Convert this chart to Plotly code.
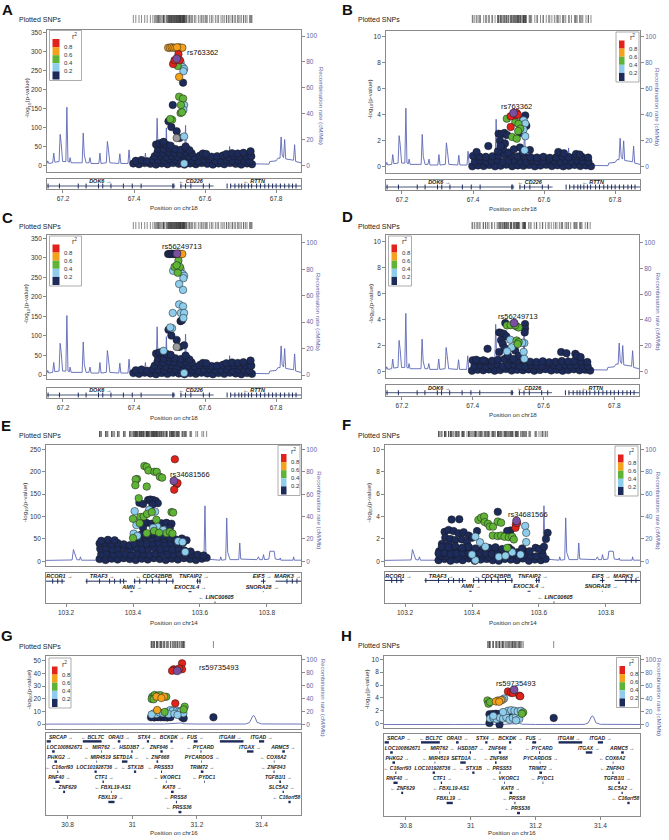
import plotly.graph_objects as go

W, H = 669, 840
FONT = "Liberation Sans, Arial, sans-serif"
GENE_FONT = "Liberation Sans, DejaVu Sans, sans-serif"

C_RED = "#e2231b"
C_ORANGE = "#f4a21c"
C_GREEN = "#5fb337"
C_LBLUE = "#8ecdec"
C_NAVY = "#1d2b5b"
C_PURPLE = "#7b4f9f"
C_GREY = "#9b9b9b"
REC_LINE = "#5c68b6"
REC_TXT = "#5d66a8"
BOX = "#8a8a8a"

# ---------------- chr18 region (panels A-D) ----------------
chr18_rec_x = [67.155, 67.157, 67.160, 67.171, 67.174, 67.177, 67.189, 67.192, 67.195, 67.199,
               67.208, 67.211, 67.214, 67.218, 67.220, 67.223, 67.254, 67.257, 67.260, 67.265,
               67.273, 67.276, 67.279, 67.301, 67.304, 67.307, 67.322, 67.325, 67.328, 67.332,
               67.357, 67.360, 67.363, 67.383, 67.386, 67.389, 67.429, 67.432, 67.435, 67.462,
               67.465, 67.468, 67.472, 67.488, 67.491, 67.494, 67.542, 67.545, 67.548, 67.600,
               67.666, 67.669, 67.672, 67.780, 67.782, 67.800, 67.805, 67.811, 67.814, 67.817,
               67.821, 67.824, 67.827, 67.849, 67.852, 67.855, 67.870]
chr18_rec_y = [1.5, 3.5, 1.5, 2.0, 9.5, 2.5, 3.0, 24.0, 17.0, 3.0,
               3.0, 45.0, 3.0, 2.5, 6.0, 2.0, 2.0, 25.0, 8.0, 2.0,
               2.0, 6.0, 1.5, 1.5, 9.5, 1.5, 2.0, 18.5, 12.0, 2.0,
               1.5, 9.0, 1.5, 1.5, 12.0, 1.5, 1.5, 9.5, 1.5, 2.0,
               36.5, 8.0, 3.0, 3.0, 29.0, 3.0, 3.0, 31.0, 3.0, 2.0,
               1.5, 14.6, 1.5, 1.0, 3.0, 3.5, 5.6, 5.6, 22.0, 8.0,
               6.0, 20.0, 5.0, 4.0, 16.0, 3.0, 2.0]

chr18_gene_name = ["DOK6", "CD226", "RTTN"]
chr18_gene_start = [67.068, 67.530, 67.671]
chr18_gene_end = [67.516, 67.624, 67.873]
chr18_gene_strand = ["+", "-", "-"]
chr18_gene_row = [0, 0, 0]
chr18_gene_label = [67.305, 67.560, 67.738]
chr18_exons = [67.158, 67.190, 67.243, 67.265, 67.300, 67.312, 67.335, 67.370, 67.395, 67.420,
               67.509, 67.512, 67.532, 67.545, 67.560, 67.595, 67.612, 67.662, 67.672, 67.684,
               67.695, 67.703, 67.712, 67.722, 67.731, 67.745, 67.756, 67.768, 67.779, 67.790,
               67.800, 67.812, 67.824, 67.836, 67.846, 67.856]

# A and C: same SNPs / p-values, LD to different index SNPs
AC_pos = [67.496, 67.501, 67.506, 67.511, 67.516, 67.526, 67.531, 67.536,
          67.525, 67.510, 67.529, 67.514, 67.531, 67.523, 67.537, 67.541, 67.539,
          67.527, 67.538, 67.527, 67.538, 67.509, 67.532, 67.541, 67.539, 67.531, 67.535,
          67.507, 67.502, 67.497, 67.505, 67.520, 67.520, 67.528, 67.541, 67.541, 67.483,
          67.520, 67.521]
AC_logp = [310, 310, 311, 310, 310, 311, 310, 310,
           293, 267, 277, 277, 272, 262, 259, 254, 248,
           233, 218, 181, 176, 159, 159, 159, 146, 138, 140,
           120, 122, 116, 101, 90, 72, 72, 76, 5, 62,
           281, 311]
A_r2 = [0.7, 0.7, 0.7, 0.7, 0.7, 0.7, 0.7, 0.7,
        0.9, 0.9, 0.9, 0.9, 0.3, 0.5, 0.3, 0.3, 0.3,
        0.7, 0.1, 0.5, 0.5, 0.1, 0.5, 0.3, 0.3, 0.5, 0.5,
        0.5, 0.5, 0.1, 0.1, 0.1, -1, 0.1, 0.3, 0.3, 0.1,
        1.0, 0.7]
C_r2 = [0.1, 0.1, 0.1, 0.1, 0.1, 0.1, 0.7, 0.7,
        0.5, 0.3, 0.5, 0.5, 0.3, 0.5, 0.3, 0.3, 0.3,
        0.3, 0.3, 0.3, 0.3, 0.3, 0.3, 0.3, 0.3, 0.1, 0.1,
        0.3, 0.3, 0.1, 0.1, 0.1, -1, 0.1, 0.1, 0.3, 0.3,
        0.5, 1.0]
# low-LD cloud (r2 < 0.2) shared by A and C
AC_band_pos = [67.398, 67.414, 67.430, 67.446, 67.462, 67.478, 67.494, 67.510, 67.526, 67.542, 67.558,
               67.574, 67.590, 67.606, 67.622, 67.638, 67.654, 67.670, 67.686, 67.702, 67.718, 67.732,
               67.405, 67.421, 67.437, 67.453, 67.469, 67.485, 67.501, 67.517, 67.533, 67.549, 67.565,
               67.581, 67.597, 67.613, 67.629, 67.645, 67.661, 67.677, 67.693, 67.709, 67.725,
               67.458, 67.474, 67.490, 67.506, 67.522, 67.538, 67.554, 67.570, 67.586, 67.602, 67.618,
               67.634, 67.650, 67.666, 67.682, 67.698, 67.714, 67.730,
               67.466, 67.482, 67.498, 67.514, 67.530, 67.546, 67.562, 67.594, 67.603, 67.660, 67.676,
               67.692, 67.708, 67.728,
               67.468, 67.484, 67.500, 67.516, 67.532, 67.548, 67.556,
               67.462, 67.472, 67.482, 67.492, 67.503, 67.545]
AC_band_logp = [5, 3, 6, 4, 2, 5, 3, 6, 4, 2, 5, 3, 6, 4, 2, 5, 3, 6, 4, 2, 5, 3,
                12, 14, 11, 15, 13, 12, 16, 14, 12, 15, 13, 11, 14, 16, 12, 13, 15, 12, 14, 13, 11,
                24, 26, 22, 25, 23, 27, 24, 22, 26, 25, 23, 24, 26, 22, 25, 23, 26, 24,
                34, 32, 35, 33, 31, 34, 32, 31, 30, 30, 32, 31, 33, 37,
                44, 42, 45, 43, 41, 44, 40,
                55, 58, 57, 54, 52, 50]

B_pos = [67.514, 67.523, 67.519, 67.506, 67.526, 67.506,
         67.495, 67.519, 67.528, 67.533, 67.527, 67.510, 67.523,
         67.542, 67.547, 67.542, 67.547, 67.545,
         67.547, 67.541, 67.536, 67.550, 67.532, 67.472, 67.480, 67.488, 67.496, 67.476,
         67.490, 67.484, 67.443, 67.410, 67.532, 67.540, 67.560, 67.640, 67.656, 67.690,
         67.700, 67.500, 67.515, 67.470, 67.478]
B_logp = [4.13, 4.13, 3.95, 3.88, 4.00, 3.06,
          3.70, 3.44, 3.30, 2.93, 2.75, 2.30, 2.17,
          3.57, 3.32, 2.86, 2.35, 1.28,
          3.95, 3.62, 3.05, 3.15, 2.60, 2.55, 2.50, 2.60, 2.45, 2.00,
          1.80, 1.40, 1.60, 1.15, 1.50, 1.10, 1.30, 1.15, 1.05, 1.00,
          0.95, 1.10, 1.35, 1.20, 1.60]
B_r2 = [1.0, 0.9, 0.9, 0.9, 0.9, 0.9,
        0.5, 0.5, 0.5, 0.5, 0.5, 0.5, 0.5,
        0.3, 0.3, 0.3, 0.3, 0.3,
        0.1, 0.1, 0.1, 0.1, 0.1, 0.1, 0.1, 0.1, 0.1, 0.1,
        0.1, 0.1, 0.1, 0.1, 0.1, 0.1, 0.1, 0.1, 0.1, 0.1,
        0.1, 0.1, 0.1, 0.1, 0.1]

D_pos = [67.517,
         67.497, 67.507, 67.524, 67.530, 67.520, 67.524, 67.530, 67.527,
         67.506, 67.510, 67.497, 67.546, 67.544, 67.546, 67.540,
         67.492, 67.548, 67.548, 67.547, 67.475, 67.480, 67.488, 67.495, 67.480, 67.485,
         67.490, 67.442, 67.410, 67.430, 67.650, 67.665, 67.690, 67.695, 67.520, 67.530,
         67.500, 67.515, 67.705, 67.475]
D_logp = [3.72,
          3.54, 3.56, 3.46, 3.38, 3.55, 2.38, 2.25, 2.10,
          2.44, 1.85, 1.54, 2.18, 1.50, 0.97, 2.20,
          3.72, 3.64, 3.30, 3.00, 3.00, 2.95, 2.90, 2.70, 2.40, 2.10,
          1.80, 1.74, 0.90, 0.85, 1.49, 1.40, 1.35, 1.20, 1.60, 1.20,
          1.20, 0.95, 1.10, 1.50]
D_r2 = [1.0,
        0.5, 0.5, 0.5, 0.5, 0.5, 0.5, 0.5, 0.5,
        0.3, 0.3, 0.3, 0.3, 0.3, 0.3, 0.3,
        0.1, 0.1, 0.1, 0.1, 0.1, 0.1, 0.1, 0.1, 0.1, 0.1,
        0.1, 0.1, 0.1, 0.1, 0.1, 0.1, 0.1, 0.1, 0.1, 0.1,
        0.1, 0.1, 0.1, 0.1]
# low-LD cloud shared by B and D
BD_band_pos = [67.398, 67.414, 67.430, 67.446, 67.462, 67.478, 67.494, 67.510, 67.526, 67.542, 67.558,
               67.574, 67.590, 67.606, 67.622, 67.638, 67.654, 67.670, 67.686, 67.702, 67.718, 67.732,
               67.405, 67.421, 67.437, 67.453, 67.469, 67.485, 67.501, 67.517, 67.533, 67.549, 67.565,
               67.581, 67.597, 67.613, 67.629, 67.645, 67.661, 67.677, 67.693, 67.709, 67.725,
               67.400, 67.418, 67.436, 67.455, 67.472, 67.490, 67.508, 67.526, 67.544, 67.562,
               67.580, 67.598, 67.616, 67.634, 67.652, 67.670, 67.688, 67.706, 67.724]
BD_band_logp = [0.05, 0.12, 0.08, 0.15, 0.05, 0.10, 0.18, 0.06, 0.12, 0.09, 0.15,
                0.05, 0.11, 0.17, 0.07, 0.13, 0.05, 0.10, 0.16, 0.08, 0.12, 0.06,
                0.42, 0.50, 0.38, 0.46, 0.55, 0.40, 0.48, 0.52, 0.44, 0.37, 0.50,
                0.45, 0.41, 0.53, 0.47, 0.39, 0.51, 0.43, 0.49, 0.45, 0.40,
                0.85, 0.80, 0.78, 0.82, 0.90, 0.95, 0.88, 0.80, 0.85, 0.75,
                0.72, 0.78, 0.70, 0.74, 0.80, 0.76, 0.82, 0.78, 0.72]

# ---------------- chr14 region (panels E-F) ----------------
chr14_rec_x = [103.137, 103.200, 103.218, 103.222, 103.226, 103.229, 103.232, 103.240, 103.243, 103.246,
               103.290, 103.295, 103.300, 103.612, 103.615, 103.618, 103.660, 103.662, 103.665, 103.677,
               103.680, 103.683, 103.687, 103.690, 103.716, 103.719, 103.722, 103.770, 103.775, 103.778,
               103.787, 103.790, 103.793, 103.806, 103.809, 103.822, 103.825, 103.838, 103.840, 103.842,
               103.878, 103.880, 103.882, 103.905]
chr14_rec_y = [0.8, 1.0, 1.2, 10.5, 6.0, 4.0, 1.5, 1.2, 4.0, 1.0,
               1.0, 3.0, 1.0, 1.0, 49.6, 2.0, 1.0, 4.0, 1.0, 1.5,
               38.8, 8.0, 3.0, 1.5, 1.5, 16.4, 2.0, 1.5, 4.0, 1.5,
               1.5, 6.0, 1.5, 2.0, 9.0, 9.0, 2.0, 1.5, 3.0, 1.0,
               1.0, 4.0, 1.0, 1.0]

chr14_gene_name = ["RCOR1", "TRAF3", "CDC42BPB", "TNFAIP2", "EIF5", "MARK3",
                   "AMN", "EXOC3L4", "SNORA28", "LINC00605"]
chr14_gene_start = [103.058, 103.258, 103.402, 103.589, 103.782, 103.826,
                    103.392, 103.566, 103.788, 103.643]
chr14_gene_end = [103.196, 103.382, 103.522, 103.603, 103.796, 103.970,
                  103.399, 103.575, 103.790, 103.647]
chr14_gene_strand = ["+", "+", "-", "+", "+", "+", "+", "+", "+", "-"]
chr14_gene_row = [0, 0, 0, 0, 0, 0, 1, 1, 1, 2]
chr14_gene_label = [103.180, 103.308, 103.462, 103.582, 103.786, 103.862,
                    103.397, 103.571, 103.786, 103.648]
chr14_exons = [103.160, 103.175, 103.188, 103.262, 103.300, 103.330, 103.345, 103.362, 103.372,
               103.405, 103.420, 103.440, 103.458, 103.478, 103.500, 103.519, 103.593, 103.600,
               103.790, 103.860, 103.876, 103.890]

chr14_band_pos = [103.300, 103.318, 103.336, 103.354, 103.372, 103.390, 103.408, 103.426, 103.444, 103.462,
                  103.480, 103.498, 103.516, 103.534, 103.552, 103.570, 103.588, 103.606, 103.620,
                  103.305, 103.323, 103.341, 103.359, 103.377, 103.395, 103.413, 103.431, 103.449, 103.467,
                  103.485, 103.503, 103.521, 103.539, 103.557, 103.575, 103.593, 103.611,
                  103.302, 103.320, 103.338, 103.356, 103.374, 103.392, 103.410, 103.428, 103.446, 103.464,
                  103.482, 103.500, 103.518, 103.536, 103.554, 103.572,
                  103.300, 103.318, 103.336, 103.354, 103.372, 103.390, 103.405, 103.423, 103.441, 103.459,
                  103.477, 103.495, 103.513, 103.531, 103.549]
E_band_logp = [5, 3, 6, 4, 7, 5, 3, 6, 4, 7, 5, 3, 6, 4, 7, 5, 3, 6, 8,
               16, 18, 15, 17, 16, 14, 18, 16, 15, 17, 18, 16, 15, 17, 14, 16, 15, 13,
               28, 30, 27, 29, 31, 28, 30, 27, 29, 31, 28, 30, 27, 29, 24, 22,
               40, 42, 39, 41, 38, 36, 40, 42, 39, 41, 43, 40, 42, 39, 41]
F_band_logp = [0.10, 0.20, 0.05, 0.15, 0.10, 0.25, 0.05, 0.15, 0.20, 0.10,
               0.05, 0.20, 0.15, 0.10, 0.25, 0.05, 0.15, 0.10, 0.20,
               0.50, 0.45, 0.60, 0.40, 0.55, 0.50, 0.45, 0.60, 0.40, 0.55,
               0.50, 0.45, 0.60, 0.40, 0.55, 0.50, 0.45, 0.60,
               0.90, 0.85, 1.00, 0.80, 0.95, 0.90, 0.85, 1.00, 0.80, 0.95,
               0.90, 0.85, 1.00, 0.80, 0.95, 0.90,
               0.70, 0.75, 0.65, 0.70, 0.75, 0.70, 0.65, 0.75, 0.70, 0.65,
               0.75, 0.70, 0.65, 0.75, 0.70]

E_pos = [103.522,
         103.525, 103.530, 103.523, 103.533,
         103.434, 103.441, 103.446, 103.464, 103.471, 103.480, 103.487, 103.412, 103.408, 103.407,
         103.441, 103.417, 103.515, 103.520, 103.400, 103.422, 103.432, 103.442, 103.456, 103.470,
         103.441, 103.463, 103.500, 103.510, 103.518, 103.400, 103.478, 103.420,
         103.405, 103.448, 103.466, 103.410, 103.472, 103.402, 103.413, 103.535, 103.548, 103.556,
         103.490, 103.460,
         103.419, 103.445, 103.452, 103.460, 103.468, 103.474, 103.430, 103.458, 103.425, 103.440,
         103.455, 103.470, 103.485, 103.500, 103.515, 103.430, 103.470, 103.510,
         103.305, 103.325, 103.345, 103.420, 103.438, 103.456, 103.474, 103.492, 103.510, 103.528,
         103.546, 103.560, 103.425, 103.443, 103.461, 103.490]
E_logp = [179.6,
          228, 172, 160, 175,
          213, 211, 203, 200, 200, 189, 187, 184, 183, 170,
          167, 141, 110, 109, 95, 99, 100, 106, 110, 93,
          63, 68, 63, 66, 62, 52, 64, 85,
          112, 115, 111, 81, 78, 62, 57, 45, 43, 21,
          70, 75,
          131, 137, 138, 137, 135, 130, 128, 127, 85, 86,
          84, 87, 85, 86, 84, 75, 76, 74,
          46, 48, 47, 52, 54, 51, 53, 50, 52, 49,
          51, 47, 60, 58, 62, 57]
E_r2 = [1.0,
        0.9, 0.9, 0.9, 0.9,
        0.5, 0.5, 0.5, 0.5, 0.5, 0.5, 0.5, 0.5, 0.5, 0.5,
        0.5, 0.5, 0.5, 0.5, 0.5, 0.5, 0.5, 0.5, 0.5, 0.5,
        0.5, 0.5, 0.5, 0.5, 0.5, 0.5, 0.5, 0.5,
        0.3, 0.3, 0.3, 0.3, 0.3, 0.3, 0.3, 0.3, 0.3, 0.3,
        0.3, 0.3,
        0.1, 0.1, 0.1, 0.1, 0.1, 0.1, 0.1, 0.1, 0.1, 0.1,
        0.1, 0.1, 0.1, 0.1, 0.1, 0.1, 0.1, 0.1,
        0.1, 0.1, 0.1, 0.1, 0.1, 0.1, 0.1, 0.1, 0.1, 0.1,
        0.1, 0.1, 0.1, 0.1, 0.1, 0.1]

F_pos = [103.533,
         103.531, 103.530, 103.535,
         103.559, 103.562, 103.562, 103.410, 103.424, 103.410, 103.480, 103.440, 103.520, 103.545,
         103.500, 103.400,
         103.419, 103.427, 103.436, 103.438, 103.448, 103.453, 103.463, 103.477, 103.487, 103.462,
         103.477, 103.487, 103.497, 103.510, 103.520, 103.525, 103.505,
         103.477, 103.339, 103.362, 103.318, 103.330, 103.345, 103.360, 103.375, 103.390, 103.400,
         103.415, 103.320, 103.335, 103.350, 103.370, 103.385, 103.310, 103.330, 103.515, 103.626,
         103.621, 103.505, 103.590, 103.610,
         103.310, 103.330, 103.350, 103.370, 103.390, 103.410, 103.450, 103.470, 103.490, 103.510,
         103.550, 103.600, 103.615]
F_logp = [3.61,
          3.28, 2.99, 3.42,
          3.16, 2.54, 1.72, 2.20, 1.70, 0.10, 0.40, 1.30, 0.80, 0.60,
          0.50, 0.60,
          3.70, 3.90, 4.00, 3.50, 3.35, 3.10, 3.10, 3.55, 3.45, 2.30,
          2.25, 2.30, 2.20, 2.15, 2.20, 1.95, 1.20,
          4.42, 3.73, 3.76, 2.63, 2.80, 2.70, 2.50, 2.60, 2.30, 2.10,
          2.70, 2.10, 2.00, 1.90, 1.95, 1.70, 1.55, 1.50, 2.76, 2.54,
          2.00, 2.70, 1.20, 1.00,
          1.30, 1.25, 1.35, 1.20, 1.30, 1.15, 1.20, 1.25, 1.10, 1.20,
          1.15, 1.10, 1.30]
F_r2 = [1.0,
        0.9, 0.9, 0.9,
        0.3, 0.3, 0.3, 0.3, 0.3, 0.3, 0.3, 0.3, 0.3, 0.3,
        0.3, 0.3,
        0.5, 0.5, 0.5, 0.5, 0.5, 0.5, 0.5, 0.5, 0.5, 0.5,
        0.5, 0.5, 0.5, 0.5, 0.5, 0.5, 0.5,
        0.1, 0.1, 0.1, 0.1, 0.1, 0.1, 0.1, 0.1, 0.1, 0.1,
        0.1, 0.1, 0.1, 0.1, 0.1, 0.1, 0.1, 0.1, 0.1, 0.1,
        0.1, 0.1, 0.1, 0.1,
        0.1, 0.1, 0.1, 0.1, 0.1, 0.1, 0.1, 0.1, 0.1, 0.1,
        0.1, 0.1, 0.1]

# ---------------- chr16 region (panels G-H) ----------------
chr16_rec_x = [30.732, 30.850, 30.890, 30.900, 30.910, 30.950, 31.100, 31.140, 31.150, 31.160,
               31.200, 31.350, 31.362, 31.368, 31.372, 31.376, 31.380, 31.386, 31.400, 31.524]
chr16_rec_y = [0.3, 0.4, 0.6, 1.5, 0.6, 0.4, 0.5, 1.2, 2.0, 0.8,
               0.4, 0.5, 2.5, 8.0, 12.5, 13.5, 10.5, 3.0, 0.6, 0.4]

chr16_gene_name = ["SRCAP", "BCL7C", "ORAI3", "STX4", "BCKDK", "FUS", "ITGAM", "ITGAD",
                   "LOC100862671", "MIR762", "HSD3B7", "ZNF646", "PYCARD", "ITGAX", "ARMC5",
                   "PHKG2", "MIR4519", "SETD1A", "ZNF668", "PYCARDOS", "COX6A2",
                   "C16orf93", "LOC101928736", "STX1B", "PRSS53", "TRIM72", "ZNF843",
                   "RNF40", "CTF1", "VKORC1", "PYDC1", "TGFB1I1",
                   "ZNF629", "FBXL19-AS1", "KAT8", "SLC5A2",
                   "FBXL19", "PRSS8", "C16orf58",
                   "PRSS36"]
chr16_gene_row = [0, 0, 0, 0, 0, 0, 0, 0,
                  1, 1, 1, 1, 1, 1, 1,
                  2, 2, 2, 2, 2, 2,
                  3, 3, 3, 3, 3, 3,
                  4, 4, 4, 4, 4,
                  5, 5, 5, 5,
                  6, 6, 6,
                  7]
chr16_gene_label = [30.779, 30.877, 30.959, 31.046, 31.123, 31.195, 31.303, 31.400,
                    30.800, 30.913, 31.000, 31.092, 31.210, 31.364, 31.467,
                    30.774, 30.892, 30.980, 31.077, 31.216, 31.436,
                    30.774, 30.892, 31.000, 31.087, 31.216, 31.436,
                    30.774, 30.913, 31.108, 31.221, 31.452,
                    30.790, 30.939, 31.123, 31.462,
                    30.933, 31.133, 31.477,
                    31.144]
chr16_gene_start = [30.735, 30.847, 30.955, 31.045, 31.118, 31.190, 31.271, 31.392,
                    30.752, 30.904, 30.997, 31.087, 31.211, 31.355, 31.464,
                    30.759, 30.889, 30.968, 31.075, 31.213, 31.438,
                    30.768, 30.883, 31.005, 31.089, 31.212, 31.437,
                    30.762, 30.908, 31.104, 31.222, 31.455,
                    30.786, 30.934, 31.120, 31.465,
                    30.926, 31.135, 31.483,
                    31.143]
chr16_gene_end = [30.748, 30.905, 30.963, 31.052, 31.125, 31.202, 31.344, 31.408,
                  30.760, 30.906, 31.001, 31.094, 31.214, 31.375, 31.472,
                  30.767, 30.891, 30.985, 31.080, 31.215, 31.440,
                  30.771, 30.890, 31.012, 31.092, 31.220, 31.440,
                  30.775, 30.912, 31.106, 31.224, 31.460,
                  30.792, 30.936, 31.128, 31.469,
                  30.945, 31.138, 31.490,
                  31.152]
chr16_gene_strand = ["+", "-", "+", "+", "+", "+", "+", "+",
                     "+", "+", "+", "+", "-", "+", "+",
                     "+", "-", "+", "-", "+", "-",
                     "-", "+", "-", "-", "+", "-",
                     "+", "+", "-", "-", "+",
                     "-", "-", "+", "+",
                     "+", "-", "-",
                     "-"]

G_pos = [31.139,
         31.154, 31.154, 31.128, 31.133, 31.123, 31.145, 31.133,
         31.075, 31.098, 31.077, 31.090,
         31.062, 31.069, 31.080, 31.087, 31.060, 31.066, 31.105, 31.162, 31.159, 31.100,
         31.067, 31.075, 31.085, 31.095, 31.108, 31.118, 31.125, 31.138, 31.145, 31.150,
         31.158, 31.060, 31.112, 31.130, 31.140,
         31.058, 31.068, 31.078, 31.088, 31.098, 31.108, 31.118, 31.154, 31.159, 31.251, 31.090]
G_logp = [42.0,
          47.9, 43.2, 43.2, 42.5, 42.0, 43.8, 16.3,
          21.6, 21.6, 11.0, 20.5,
          21.6, 22.9, 22.5, 22.8, 19.8, 19.5, 21.5, 13.7, 11.5, 9.5,
          8.4, 7.8, 9.0, 8.5, 9.7, 11.0, 10.3, 10.5, 10.0, 9.7,
          8.5, 7.5, 7.8, 8.0, 7.2,
          5.3, 5.2, 5.4, 5.3, 5.3, 5.2, 5.4, 5.3, 4.5, 5.3, 7.2]
G_r2 = [1.0,
        0.9, 0.9, 0.9, 0.9, 0.9, 0.9, 0.9,
        0.7, 0.7, 0.7, 0.7,
        0.5, 0.5, 0.5, 0.5, 0.5, 0.5, 0.5, 0.5, 0.5, 0.5,
        0.3, 0.3, 0.3, 0.3, 0.3, 0.3, 0.3, 0.3, 0.3, 0.3,
        0.3, 0.3, 0.3, 0.3, 0.3,
        0.1, 0.1, 0.1, 0.1, 0.1, 0.1, 0.1, 0.1, 0.1, 0.1, 0.1]

H_pos = [31.134,
         31.115, 31.124, 31.130, 31.150, 31.153,
         31.084, 31.094, 31.078, 31.088,
         31.052, 31.055, 31.060, 31.162, 31.158,
         31.103, 31.098, 31.060, 31.070, 31.080, 31.090, 31.100, 31.110, 31.120, 31.130,
         31.140, 31.150, 31.115, 31.125, 31.135, 31.145, 31.155, 31.070, 31.100, 31.140,
         31.058, 31.068, 31.078, 31.088, 31.098, 31.108, 31.118, 31.128, 31.138, 31.148,
         31.058, 31.089, 31.256, 31.130]
H_logp = [5.26,
          5.00, 4.80, 4.75, 4.35, 4.25,
          3.60, 3.65, 3.45, 3.40,
          3.60, 3.10, 3.35, 1.75, 1.55,
          3.90, 3.70, 0.80, 0.90, 0.70, 0.95, 0.80, 1.00, 0.60, 0.90,
          1.10, 0.75, 2.00, 2.10, 2.00, 1.90, 2.00, 1.20, 1.80, 0.50,
          1.45, 1.50, 1.55, 1.50, 1.45, 1.50, 1.45, 1.50, 1.45, 1.50,
          0.10, -0.15, 0.90, 1.10]
H_r2 = [1.0,
        0.9, 0.9, 0.9, 0.9, 0.9,
        0.7, 0.7, 0.7, 0.7,
        0.5, 0.5, 0.5, 0.5, 0.5,
        0.3, 0.3, 0.3, 0.3, 0.3, 0.3, 0.3, 0.3, 0.3, 0.3,
        0.3, 0.3, 0.3, 0.3, 0.3, 0.3, 0.3, 0.3, 0.3, 0.3,
        0.1, 0.1, 0.1, 0.1, 0.1, 0.1, 0.1, 0.1, 0.1, 0.1,
        0.1, 0.1, 0.1, 0.1]

# ---------------- regions / panels ----------------
REGIONS = {
    "chr18": dict(xrange=[67.155, 67.870], xticks=[67.2, 67.4, 67.6, 67.8],
                  xtext=["67.2", "67.4", "67.6", "67.8"], rec=(chr18_rec_x, chr18_rec_y),
                  genes=(chr18_gene_name, chr18_gene_start, chr18_gene_end, chr18_gene_strand,
                         chr18_gene_row, chr18_gene_label),
                  exons=chr18_exons, grange=[-0.7, 0.3], gfont=5.5, gwidth=0.8,
                  xtitle="Position on chr18"),
    "chr14": dict(xrange=[103.140, 103.902], xticks=[103.2, 103.4, 103.6, 103.8],
                  xtext=["103.2", "103.4", "103.6", "103.8"], rec=(chr14_rec_x, chr14_rec_y),
                  genes=(chr14_gene_name, chr14_gene_start, chr14_gene_end, chr14_gene_strand,
                         chr14_gene_row, chr14_gene_label),
                  exons=chr14_exons, grange=[-2.48, 0.38], gfont=5.5, gwidth=1.0,
                  xtitle="Position on chr14"),
    "chr16": dict(xrange=[30.733, 31.522], xticks=[30.8, 31.0, 31.2, 31.4],
                  xtext=["30.8", "31", "31.2", "31.4"], rec=(chr16_rec_x, chr16_rec_y),
                  genes=(chr16_gene_name, chr16_gene_start, chr16_gene_end, chr16_gene_strand,
                         chr16_gene_row, chr16_gene_label),
                  exons=[], grange=[-7.69, 0.43], gfont=5.0, gwidth=2.4,
                  xtitle="Position on chr16"),
}

PANELS = [
    dict(letter="A", lxy=(7, 10), box=(47, 301, 29.5, 172), gene=(179, 189), rug=(15, 23),
         snp=(17, 19), xty=207, ytx=(27, 321), region="chr18",
         yr=[-17.5, 358], rr=[-5.1, 105.1], yt=[0, 50, 100, 150, 200, 250, 300, 350],
         legend=(49.5, 30.5, 32), pts=(AC_pos, AC_logp, A_r2), band=(AC_band_pos, AC_band_logp),
         lead="rs763362", lab=(67.544, 298, "left")),
    dict(letter="B", lxy=(347, 10), box=(386, 640, 31, 173), gene=(180, 190), rug=(15, 23),
         snp=(356, 19), xty=208, ytx=(370, 658), region="chr18",
         yr=[-0.46, 10.41], rr=[-4.6, 104.1], yt=[0, 2, 4, 6, 8, 10],
         legend=(616, 32, 23), pts=(B_pos, B_logp, B_r2), band=(BD_band_pos, BD_band_logp),
         lead="rs763362", lab=(67.523, 4.6, "center")),
    dict(letter="C", lxy=(7, 218), box=(47, 301, 234.5, 379), gene=(388, 398), rug=(222, 229),
         snp=(17, 226.5), xty=417, ytx=(26, 318), region="chr18",
         yr=[-10.2, 360], rr=[-3.0, 106.3], yt=[0, 50, 100, 150, 200, 250, 300, 350],
         legend=(49.5, 236, 32), pts=(AC_pos, AC_logp, C_r2), band=(AC_band_pos, AC_band_logp),
         lead="rs56249713", lab=(67.534, 329, "center")),
    dict(letter="D", lxy=(347, 217), box=(386, 639, 235, 378), gene=(385, 396), rug=(222, 229),
         snp=(356, 227), xty=414, ytx=(370, 658), region="chr18",
         yr=[-0.51, 10.5], rr=[-5.2, 105.9], yt=[0, 2, 4, 6, 8, 10],
         legend=(388.5, 236, 23), pts=(D_pos, D_logp, D_r2), band=(BD_band_pos, BD_band_logp),
         lead="rs56249713", lab=(67.528, 4.2, "center")),
    dict(letter="E", lxy=(6, 425), box=(46, 301, 444.5, 566), gene=(573, 603), rug=(431, 437),
         snp=(17, 435), xty=622, ytx=(25, 320), region="chr14",
         yr=[-10.4, 261], rr=[-4.2, 104.5], yt=[0, 50, 100, 150, 200, 250],
         legend=(278, 445.5, 22), pts=(E_pos, E_logp, E_r2), band=(chr14_band_pos, E_band_logp),
         lead="rs34681566", lab=(103.505, 193, "left")),
    dict(letter="F", lxy=(346, 424), box=(385, 640, 445, 566), gene=(572, 603), rug=(431, 437),
         snp=(356, 435), xty=622, ytx=(368, 658), region="chr14",
         yr=[-0.42, 10.39], rr=[-4.2, 103.9], yt=[0, 2, 4, 6, 8, 10],
         legend=(615, 446, 23), pts=(F_pos, F_logp, F_r2), band=(chr14_band_pos, F_band_logp),
         lead="rs34681566", lab=(103.501, 4.2, "left")),
    dict(letter="G", lxy=(7, 635), box=(46, 301, 656, 729), gene=(733, 815), rug=(641, 648),
         snp=(17, 646), xty=832, ytx=(28, 323), region="chr16",
         yr=[-3.95, 53.7], rr=[-7.2, 105.1], yt=[0, 10, 20, 30, 40, 50],
         legend=(49, 658, 22), pts=(G_pos, G_logp, G_r2), band=([], []),
         lead="rs59735493", lab=(31.200, 44.5, "left")),
    dict(letter="H", lxy=(346, 635), box=(384, 640, 656, 728), gene=(734, 816), rug=(641, 648),
         snp=(356, 645), xty=832, ytx=(367, 660), region="chr16",
         yr=[-0.67, 10.5], rr=[-5.0, 105.0], yt=[0, 2, 4, 6, 8, 10],
         legend=(616.5, 657.5, 22), pts=(H_pos, H_logp, H_r2), band=([], []),
         lead="rs59735493", lab=(31.141, 6.3, "center")),
]

BINS = [("navy", C_NAVY), ("na", C_GREY), ("lblue", C_LBLUE), ("green", C_GREEN),
        ("orange", C_ORANGE), ("red", C_RED), ("lead", C_PURPLE)]


def ld_bin(r2):
    if r2 >= 1.0:
        return "lead"
    if r2 < 0:
        return "na"
    if r2 >= 0.8:
        return "red"
    if r2 >= 0.6:
        return "orange"
    if r2 >= 0.4:
        return "green"
    if r2 >= 0.2:
        return "lblue"
    return "navy"


def px(v):
    return v / W


def py(v):
    return 1 - v / H


def axn(kind, n):
    return kind + "axis" + ("" if n == 1 else str(n))


def axr(kind, n):
    return kind + ("" if n == 1 else str(n))


fig = go.Figure()
layout = {}
annotations = []
shapes = []

for k, P in enumerate(PANELS):
    R = REGIONS[P["region"]]
    x0, x1, y0, y1 = P["box"]
    g0, g1 = P["gene"]
    u0, u1 = P["rug"]
    xm, xg, xu = 3 * k + 1, 3 * k + 2, 3 * k + 3
    yrec, yp, yg, yu = 4 * k + 1, 4 * k + 2, 4 * k + 3, 4 * k + 4
    xdom = [px(x0), px(x1)]

    layout[axn("x", xm)] = dict(domain=xdom, anchor=axr("y", yrec), range=R["xrange"],
                                showticklabels=False, ticks="", showgrid=False, zeroline=False,
                                showline=True, mirror=True, linecolor=BOX, linewidth=0.8)
    layout[axn("y", yrec)] = dict(domain=[py(y1), py(y0)], anchor=axr("x", xm), side="right",
                                  range=P["rr"], tickvals=[0, 20, 40, 60, 80, 100],
                                  ticks="outside", ticklen=3, tickwidth=0.7, tickcolor=BOX,
                                  tickfont=dict(size=6.5, color=REC_TXT), showline=True,
                                  linecolor=BOX, linewidth=0.8, showgrid=False, zeroline=False)
    layout[axn("y", yp)] = dict(overlaying=axr("y", yrec), anchor=axr("x", xm), side="left",
                                range=P["yr"], tickvals=P["yt"], ticks="outside", ticklen=3,
                                tickwidth=0.7, tickcolor=BOX, tickfont=dict(size=6.5, color="#333"),
                                showline=True, linecolor=BOX, linewidth=0.8, showgrid=False,
                                zeroline=False)
    layout[axn("x", xg)] = dict(domain=xdom, anchor=axr("y", yg), range=R["xrange"],
                                tickvals=R["xticks"], ticktext=R["xtext"], ticks="outside",
                                ticklen=3, tickwidth=0.7, tickcolor=BOX,
                                tickfont=dict(size=6.5, color="#333"), showline=True, mirror=True,
                                linecolor=BOX, linewidth=0.8, showgrid=False, zeroline=False)
    layout[axn("y", yg)] = dict(domain=[py(g1), py(g0)], anchor=axr("x", xg), range=R["grange"],
                                showticklabels=False, ticks="", showline=True, mirror=True,
                                linecolor=BOX, linewidth=0.8, showgrid=False, zeroline=False)
    layout[axn("x", xu)] = dict(domain=xdom, anchor=axr("y", yu), range=R["xrange"], visible=False)
    layout[axn("y", yu)] = dict(domain=[py(u1), py(u0)], anchor=axr("x", xu), range=[-1, 1],
                                visible=False)

    # recombination rate
    rx, ry = R["rec"]
    fig.add_trace(go.Scatter(x=rx, y=ry, mode="lines", line=dict(color=REC_LINE, width=0.9),
                             xaxis=axr("x", xm), yaxis=axr("y", yrec), hoverinfo="skip"))

    # SNPs, drawn low LD first
    pos, logp, r2 = P["pts"]
    bpos, blogp = P["band"]
    groups = {name: ([], []) for name, _ in BINS}
    for x, y in zip(bpos, blogp):
        groups["navy"][0].append(x)
        groups["navy"][1].append(y)
    for x, y, r in zip(pos, logp, r2):
        g = groups[ld_bin(r)]
        g[0].append(x)
        g[1].append(y)
    for name, col in BINS:
        gx, gy = groups[name]
        if not gx:
            continue
        fig.add_trace(go.Scatter(
            x=gx, y=gy, mode="markers", xaxis=axr("x", xm), yaxis=axr("y", yp),
            marker=dict(size=7.5 if name != "lead" else 8, color=col,
                        line=dict(width=0.5, color="#1a1a1a")),
            hoverinfo="skip"))

    # rug of plotted SNPs
    fig.add_trace(go.Scatter(
        x=list(bpos) + list(pos), y=[0] * (len(bpos) + len(pos)), mode="markers",
        xaxis=axr("x", xu), yaxis=axr("y", yu),
        marker=dict(symbol="line-ns", size=8, line=dict(width=0.6, color="#3c3c3c")),
        hoverinfo="skip"))

    # genes
    names, starts, ends, strands, rows, labx = R["genes"]
    bx, by = [], []
    for s, e, r in zip(starts, ends, rows):
        bx += [s, e, None]
        by += [-r - 0.4, -r - 0.4, None]
    fig.add_trace(go.Scatter(x=bx, y=by, mode="lines", xaxis=axr("x", xg), yaxis=axr("y", yg),
                             line=dict(color=C_NAVY, width=R["gwidth"]), hoverinfo="skip"))
    if R["exons"]:
        fig.add_trace(go.Scatter(
            x=R["exons"], y=[-0.4] * len(R["exons"]), mode="markers",
            xaxis=axr("x", xg), yaxis=axr("y", yg),
            marker=dict(symbol="line-ns", size=3.5, line=dict(width=1.0, color=C_NAVY)),
            hoverinfo="skip"))
    gtext = [(n + " \u2192") if s == "+" else ("\u2190 " + n) for n, s in zip(names, strands)]
    fig.add_trace(go.Scatter(
        x=labx, y=[-r for r in rows], text=gtext, mode="text", textposition="middle center",
        xaxis=axr("x", xg), yaxis=axr("y", yg),
        textfont=dict(size=R["gfont"], color="#222", family=GENE_FONT, weight="bold",
                      style="italic"),
        hoverinfo="skip", cliponaxis=False))

    # texts
    lx, ly = P["lxy"]
    annotations.append(dict(x=px(lx), y=py(ly), xref="paper", yref="paper", text="<b>%s</b>" % P["letter"],
                            showarrow=False, font=dict(size=15, color="#111"),
                            xanchor="center", yanchor="middle"))
    sx, sy = P["snp"]
    annotations.append(dict(x=px(sx), y=py(sy), xref="paper", yref="paper", text="Plotted SNPs",
                            showarrow=False, font=dict(size=7, color="#222"),
                            xanchor="left", yanchor="middle"))
    annotations.append(dict(x=px((x0 + x1) / 2), y=py(P["xty"]), xref="paper", yref="paper",
                            text=R["xtitle"], showarrow=False, font=dict(size=6.2, color="#333"),
                            xanchor="center", yanchor="middle"))
    tl, tr = P["ytx"]
    cy = (y0 + y1) / 2
    annotations.append(dict(x=px(tl), y=py(cy - 3), xref="paper", yref="paper",
                            text="-log<sub>10</sub>(p-value)", textangle=-90, showarrow=False,
                            font=dict(size=6.2, color="#333"), xanchor="center", yanchor="middle"))
    annotations.append(dict(x=px(tr), y=py(cy + 5), xref="paper", yref="paper",
                            text="Recombination rate (cM/Mb)", textangle=90, showarrow=False,
                            font=dict(size=6.2, color=REC_TXT), xanchor="center", yanchor="middle"))
    labx_, laby_, lanchor = P["lab"]
    annotations.append(dict(x=labx_, y=laby_, xref=axr("x", xm), yref=axr("y", yp), text=P["lead"],
                            showarrow=False, font=dict(size=7.5, color="#111"),
                            xanchor=lanchor, yanchor="middle"))

    # r2 legend
    gx0, gy0, gw = P["legend"]
    sw = 7 if gw > 28 else 5.5
    shapes.append(dict(type="rect", xref="paper", yref="paper", x0=px(gx0), x1=px(gx0 + gw),
                       y0=py(gy0 + 50), y1=py(gy0), line=dict(color=BOX, width=0.7),
                       fillcolor="white", layer="above"))
    for i, col in enumerate([C_RED, C_ORANGE, C_GREEN, C_LBLUE, C_NAVY]):
        shapes.append(dict(type="rect", xref="paper", yref="paper", x0=px(gx0 + 3),
                           x1=px(gx0 + 3 + sw), y0=py(gy0 + 8.5 + 8.1 * (i + 1)),
                           y1=py(gy0 + 8.5 + 8.1 * i), line=dict(width=0), fillcolor=col,
                           layer="above"))
    for i, t in enumerate(["0.8", "0.6", "0.4", "0.2"]):
        annotations.append(dict(x=px(gx0 + sw + 5.5), y=py(gy0 + 8.5 + 8.1 * (i + 1)),
                                xref="paper", yref="paper", text=t, showarrow=False,
                                font=dict(size=6, color="#333"), xanchor="left", yanchor="middle"))
    annotations.append(dict(x=px(gx0 + gw - 7), y=py(gy0 + 5.5), xref="paper", yref="paper",
                            text="r<sup>2</sup>", showarrow=False, font=dict(size=7, color="#333"),
                            xanchor="center", yanchor="middle"))

layout.update(
    width=W, height=H, margin=dict(l=0, r=0, t=0, b=0), showlegend=False,
    paper_bgcolor="white", plot_bgcolor="white",
    font=dict(family=FONT, size=7, color="#222"),
    annotations=annotations, shapes=shapes,
)
fig.update_layout(**layout)
# page body has a default 8px margin; remove it so the figure fills the window
fig.write_html("out.html", config={"displayModeBar": False},
               post_script="document.body.style.margin='0';")
